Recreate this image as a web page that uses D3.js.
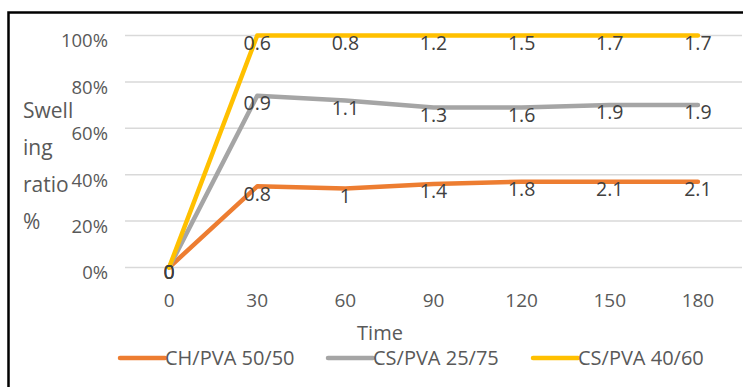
<!DOCTYPE html>
<html>
<head>
<meta charset="utf-8">
<script src="https://cdn.jsdelivr.net/npm/d3@7"></script>
<style>
  html, body { margin: 0; padding: 0; background: #fff; }
  svg { display: block; }
  text { font-family: "Open Sans", sans-serif; font-stretch: 88%; }
</style>
</head>
<body>
<svg id="chart" width="743" height="387"></svg>
<script>
// Swelling ratio over time for three blend films
const times = ["0", "30", "60", "90", "120", "150", "180"];
const seriesNames = ["CH/PVA 50/50", "CS/PVA 25/75", "CS/PVA 40/60"];
const seriesColors = ["#ED7D31", "#A5A5A5", "#FFC000"];

// swelling ratio (fraction) per time point
const chPva5050 = [0, 0.35, 0.34, 0.36, 0.37, 0.37, 0.37];
const csPva2575 = [0, 0.74, 0.72, 0.69, 0.69, 0.70, 0.70];
const csPva4060 = [0, 1.00, 1.00, 1.00, 1.00, 1.00, 1.00];

// point annotations printed under each point
const chPva5050Notes = ["0", "0.8", "1", "1.4", "1.8", "2.1", "2.1"];
const csPva2575Notes = ["0", "0.9", "1.1", "1.3", "1.6", "1.9", "1.9"];
const csPva4060Notes = ["0", "0.6", "0.8", "1.2", "1.5", "1.7", "1.7"];

const yTicks = [0, 0.2, 0.4, 0.6, 0.8, 1.0];

const series = [
  { name: seriesNames[0], color: seriesColors[0], values: chPva5050, notes: chPva5050Notes },
  { name: seriesNames[1], color: seriesColors[1], values: csPva2575, notes: csPva2575Notes },
  { name: seriesNames[2], color: seriesColors[2], values: csPva4060, notes: csPva4060Notes }
];

const svg = d3.select("#chart");

// outer chart frame (continues past the right and bottom edges)
svg.append("rect")
  .attr("x", 8.5).attr("y", 12.5)
  .attr("width", 900).attr("height", 500)
  .attr("fill", "none").attr("stroke", "#000").attr("stroke-width", 2.5);

const x = d3.scaleBand().domain(times).range([125, 742]);
const xc = d => x(d) + x.bandwidth() / 2;
const y = d3.scaleLinear().domain([0, 1]).range([267.5, 35.5]);

// horizontal gridlines
svg.append("g").selectAll("line").data(yTicks).join("line")
  .attr("x1", 125).attr("x2", 742)
  .attr("y1", d => y(d)).attr("y2", d => y(d))
  .attr("stroke", "#D9D9D9").attr("stroke-width", 1.5);

// y tick labels
svg.append("g").selectAll("text").data(yTicks).join("text")
  .attr("x", 108).attr("y", d => y(d) + 7)
  .attr("text-anchor", "end").attr("dominant-baseline", "middle")
  .attr("font-size", 18.5).attr("fill", "#595959")
  .text(d => d3.format(".0%")(d));

// x tick labels
svg.append("g").selectAll("text").data(times).join("text")
  .attr("x", d => xc(d)).attr("y", 302)
  .attr("text-anchor", "middle").attr("dominant-baseline", "middle")
  .attr("font-size", 19).attr("fill", "#595959")
  .text(d => d);

// axis titles
svg.append("text")
  .attr("x", 380).attr("y", 335)
  .attr("text-anchor", "middle").attr("dominant-baseline", "middle")
  .attr("font-size", 20).attr("fill", "#595959")
  .text("Time");

const yTitle = ["Swell", "ing", "ratio", "%"];
svg.append("g").selectAll("text").data(yTitle).join("text")
  .attr("x", 23).attr("y", (d, i) => 112 + i * 37)
  .attr("dominant-baseline", "middle")
  .attr("font-size", 21).attr("fill", "#595959")
  .text(d => d);

// series lines
const line = d3.line().x((d, i) => xc(times[i])).y(d => y(d));
svg.append("g").selectAll("path").data(series).join("path")
  .attr("d", s => line(s.values))
  .attr("fill", "none")
  .attr("stroke", s => s.color)
  .attr("stroke-width", 4.5)
  .attr("stroke-linejoin", "round")
  .attr("stroke-linecap", "round");

// point annotations
series.forEach(s => {
  svg.append("g").selectAll("text").data(s.values).join("text")
    .attr("x", (d, i) => xc(times[i]))
    .attr("y", (d, i) => y(d) + (i === 0 ? 6 : 9))
    .attr("text-anchor", "middle").attr("dominant-baseline", "middle")
    .attr("font-size", 19.5).attr("fill", "#404040")
    .text((d, i) => s.notes[i]);
});

// legend
const legendX = [120, 328, 533];
const lg = svg.append("g").selectAll("g").data(series).join("g")
  .attr("transform", (d, i) => `translate(${legendX[i]},358)`);
lg.append("line")
  .attr("x1", 0).attr("x2", 45).attr("y1", 0).attr("y2", 0)
  .attr("stroke", d => d.color).attr("stroke-width", 4.5)
  .attr("stroke-linecap", "round");
lg.append("text")
  .attr("x", 45).attr("y", 2)
  .attr("dominant-baseline", "middle")
  .attr("font-size", 20).attr("fill", "#595959")
  .text(d => d.name);
</script>
</body>
</html>
